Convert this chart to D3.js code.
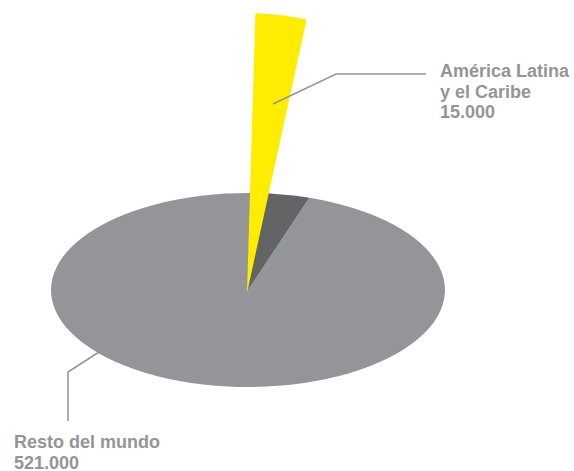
<!DOCTYPE html>
<html lang="es">
<head>
  <meta charset="UTF-8">
  <title>América Latina y el Caribe</title>
  <script src="https://d3js.org/d3.v7.min.js"></script>
  <style>
    body {
      margin: 0;
      padding: 0;
      background: #ffffff;
    }
    svg text {
      font-family: "Liberation Sans", Arial, sans-serif;
      font-weight: bold;
      font-size: 18px;
      fill: #939598;
    }
  </style>
</head>
<body>
  <svg id="chart"></svg>

  <script>
    // Data
    const regions = ["América Latina y el Caribe", "Resto del mundo"];
    const values = [15000, 521000];
    const labelLines = [
      ["América Latina", "y el Caribe", "15.000"],
      ["Resto del mundo", "521.000"]
    ];

    const width = 574;
    const height = 471;

    const svg = d3.select("#chart")
      .attr("width", width)
      .attr("height", height);

    // tilted pie: center and radii
    const cx = 248, cy = 290;
    const rx = 197, ry = 97;
    const startOffset = 0.141; // radians, rotation of the pie

    const pie = d3.pie()
      .sort(null)
      .startAngle(startOffset)
      .endAngle(startOffset + 2 * Math.PI);

    const arcs = pie(values);
    const baseArc = d3.arc().innerRadius(0).outerRadius(rx);

    const base = svg.append("g")
      .attr("transform", `translate(${cx},${cy}) scale(1,${ry / rx})`);

    // rest of the world
    base.append("path")
      .attr("d", baseArc(arcs[1]))
      .attr("fill", "#939598");

    // dark hole left by the lifted slice (shadow runs under the lifted slice)
    base.append("path")
      .attr("d", baseArc({ startAngle: 0.03, endAngle: arcs[0].endAngle }))
      .attr("fill", "#636466");

    // lifted (exploded) slice, standing up from the center
    const liftR = 280;
    const liftStart = 0.03;
    const lifted = d3.arc()
      .innerRadius(0)
      .outerRadius(liftR)
      .startAngle(liftStart)
      .endAngle(liftStart + (arcs[0].endAngle - arcs[0].startAngle) * 1.05);

    svg.append("path")
      .attr("transform", `translate(${cx - 1},${cy + 3})`)
      .attr("d", lifted())
      .attr("fill", "#ffed00");

    // leader lines
    const line = d3.line();
    svg.append("path")
      .attr("d", line([[273, 104], [336, 74], [426, 74]]))
      .attr("fill", "none")
      .attr("stroke", "#939598")
      .attr("stroke-width", 1.5);

    svg.append("path")
      .attr("d", line([[99, 352], [68, 372], [68, 421]]))
      .attr("fill", "none")
      .attr("stroke", "#939598")
      .attr("stroke-width", 1.5);

    // labels
    const labelPos = [[440, 77], [14, 448]];
    labelLines.forEach((lines, i) => {
      const t = svg.append("text")
        .attr("x", labelPos[i][0])
        .attr("y", labelPos[i][1]);
      t.selectAll("tspan")
        .data(lines)
        .enter()
        .append("tspan")
        .attr("x", labelPos[i][0])
        .attr("dy", (d, j) => j === 0 ? 0 : 20.5)
        .text(d => d);
    });
  </script>
</body>
</html>
